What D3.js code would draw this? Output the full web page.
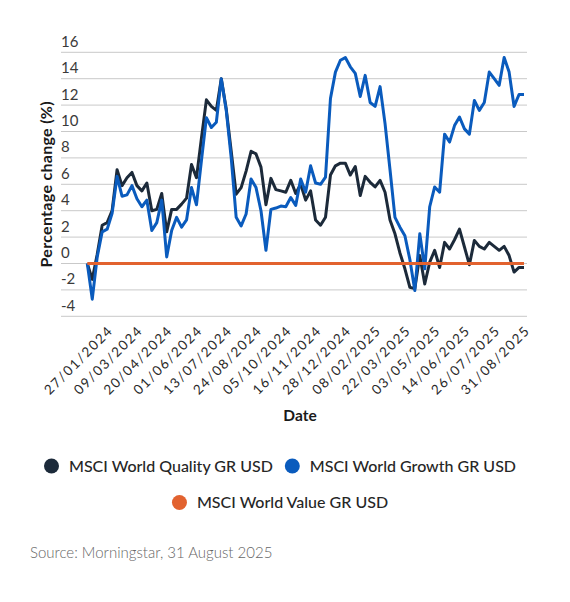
<!DOCTYPE html>
<html lang="en">
<head>
    <meta charset="utf-8">
    <style>
        body {
            margin: 0;
            padding: 0;
            background: #ffffff;
            font-family: Lato, "Open Sans", sans-serif;
        }
        .grid line {
            stroke: #c9c9c9;
            stroke-width: 1;
        }
        .series {
            fill: none;
            stroke-width: 3;
            stroke-linejoin: round;
        }
    </style>
</head>
<body>

<script src="https://cdn.jsdelivr.net/npm/d3@7"></script>
<script>
// weekly points, first one 30/12/2023, the last one is the month end 31/08/2025
var startDate = new Date(Date.UTC(2023, 11, 30));
var lastDate = new Date(Date.UTC(2025, 7, 31));

var quality = [
    0, -1.2, 0.7, 2.9, 3.1, 4.0, 7.1, 5.9, 6.5, 6.9,
    5.9, 5.5, 6.1, 4.0, 4.1, 5.3, 2.4, 4.1, 4.1, 4.5,
    4.95, 7.5, 6.5, 9.5, 12.4, 11.9, 11.6, 14.0, 11.7, 8.5,
    5.25, 5.75, 7.0, 8.5, 8.3, 7.3, 4.45, 6.45, 5.6, 5.5,
    5.4, 6.3, 5.3, 6.0, 4.8, 5.5, 3.3, 2.9, 3.5, 6.7,
    7.4, 7.6, 7.6, 6.7, 7.35, 5.15, 6.6, 6.15, 5.8, 6.3,
    5.4, 3.3, 2.25, 0.8, -0.4, -1.8, -1.9, 0.6, -1.55, 0.1,
    1.0, -0.3, 1.6, 1.1, 1.8, 2.6, 1.25, -0.1, 1.75, 1.3,
    1.1, 1.6, 1.3, 1.0, 1.3, 0.6, -0.65, -0.3, -0.3
];

var growth = [
    0, -2.7, 0.5, 2.4, 2.6, 3.8, 6.6, 5.1, 5.2, 5.9,
    4.9, 4.3, 4.8, 2.5, 3.1, 4.8, 0.5, 2.5, 3.5, 2.75,
    3.3, 5.75, 4.45, 7.8, 11.05, 10.3, 10.7, 14.0, 11.6, 8.0,
    3.5, 2.85, 3.75, 6.4, 5.75, 4.0, 1.0, 4.1, 4.2, 4.35,
    4.3, 5.0, 4.4, 6.4, 5.4, 7.4, 6.1, 6.0, 6.55, 12.5,
    14.5, 15.4, 15.6, 14.9, 14.4, 12.65, 14.25, 12.2, 11.9, 13.4,
    10.6, 7.1, 3.5, 2.75, 2.1, 0.3, -2.05, 2.25, -0.4, 4.3,
    5.8, 5.4, 9.8, 9.2, 10.45, 11.1, 10.2, 9.8, 12.35, 11.6,
    12.2, 14.5, 14.0, 13.5, 15.6, 14.5, 11.9, 12.8, 12.8
];

var value = [
    0, 0, 0, 0, 0, 0, 0, 0, 0, 0,
    0, 0, 0, 0, 0, 0, 0, 0, 0, 0,
    0, 0, 0, 0, 0, 0, 0, 0, 0, 0,
    0, 0, 0, 0, 0, 0, 0, 0, 0, 0,
    0, 0, 0, 0, 0, 0, 0, 0, 0, 0,
    0, 0, 0, 0, 0, 0, 0, 0, 0, 0,
    0, 0, 0, 0, 0, 0, 0, 0, 0, 0,
    0, 0, 0, 0, 0, 0, 0, 0, 0, 0,
    0, 0, 0, 0, 0, 0, 0, 0, 0
];

var yTicks = [-4, -2, 0, 2, 4, 6, 8, 10, 12, 14, 16];

var seriesNames = ['MSCI World Quality GR USD', 'MSCI World Growth GR USD', 'MSCI World Value GR USD'];
var seriesColors = ['#1c2a3a', '#0a5bbd', '#e2622f'];

(function() {
    var width = 570;
    var height = 602;

    // category dates: weekly steps, last point swapped for the month end
    var dates = quality.map(function (d, i) {
        return i === quality.length - 1 ? lastDate : d3.utcDay.offset(startDate, i * 7);
    });

    var svg = d3.select('body')
        .append('svg')
        .attr('width', width)
        .attr('height', height);

    var x = d3.scalePoint()
        .domain(d3.range(dates.length))
        .range([87.3, 524]);

    var y = d3.scaleLinear()
        .domain([-4, 16])
        .range([316.3, 52.3]);

    // horizontal grid with the labels sitting on top of each line
    var grid = svg.append('g').attr('class', 'grid');
    grid.selectAll('line')
        .data(yTicks)
        .enter()
        .append('line')
        .attr('x1', 61)
        .attr('x2', 527)
        .attr('y1', function (d) { return y(d); })
        .attr('y2', function (d) { return y(d); });

    grid.selectAll('text')
        .data(yTicks)
        .enter()
        .append('text')
        .attr('x', 61)
        .attr('y', function (d) { return y(d) - 5.5; })
        .style('font-size', '15px')
        .style('fill', '#3a3a3a')
        .text(function (d) { return d; });

    // x axis: every 6th week counted back from the last point
    var tickIdx = d3.range(dates.length - 1, 0, -6).reverse();
    var fmt = d3.utcFormat('%d/%m/%Y');
    var xAxis = svg.append('g')
        .attr('transform', 'translate(0,' + 318 + ')')
        .call(d3.axisBottom(x)
            .tickValues(tickIdx)
            .tickSize(0)
            .tickFormat(function (i) { return fmt(dates[i]); }));
    xAxis.select('.domain').remove();
    xAxis.selectAll('text')
        .attr('text-anchor', 'end')
        .attr('transform', 'translate(3,10) rotate(-45)')
        .attr('dy', '0.35em')
        .attr('y', 0)
        .style('font-family', 'Lato, sans-serif')
        .style('font-size', '13.5px')
        .style('letter-spacing', '1.6px')
        .style('fill', '#2a2a2a');

    // axis titles
    svg.append('text')
        .attr('transform', 'translate(51.5,184.3) rotate(-90)')
        .attr('text-anchor', 'middle')
        .style('font-size', '16px')
        .style('letter-spacing', '0.3px')
        .style('font-weight', 700)
        .style('fill', '#1a1a1a')
        .text('Percentage change (%)');

    svg.append('text')
        .attr('x', 300)
        .attr('y', 421)
        .attr('text-anchor', 'middle')
        .style('font-size', '15.5px')
        .style('font-weight', 700)
        .style('fill', '#1a1a1a')
        .text('Date');

    // the three lines
    var line = d3.line()
        .x(function (d, i) { return x(i); })
        .y(function (d) { return y(d); });

    svg.selectAll('path.series')
        .data([quality, growth, value])
        .enter()
        .append('path')
        .attr('class', 'series')
        .attr('d', line)
        .style('stroke', function (d, i) { return seriesColors[i]; });

    // legend, two rows centred under the chart
    var rows = [[0, 1], [2]];
    var rowY = [466, 502.5];
    rows.forEach(function (row, r) {
        var g = svg.append('g');
        var cx = 0;
        row.forEach(function (s) {
            g.append('circle')
                .attr('cx', cx + 7.5)
                .attr('cy', 0)
                .attr('r', 7.5)
                .style('fill', seriesColors[s]);
            var t = g.append('text')
                .attr('x', cx + 25)
                .attr('y', 5.5)
                .style('font-size', '16px')
                .style('font-weight', 500)
                .style('fill', '#262626')
                .text(seriesNames[s]);
            cx += 25 + t.node().getComputedTextLength() + 12;
        });
        var w = cx - 12;
        g.attr('transform', 'translate(' + (280 - w / 2) + ',' + rowY[r] + ')');
    });

    svg.append('text')
        .attr('x', 30)
        .attr('y', 558)
        .style('font-size', '15px')
        .style('font-weight', 300)
        .style('fill', '#666666')
        .text('Source: Morningstar, 31 August 2025');
})();
</script>

</body>
</html>
